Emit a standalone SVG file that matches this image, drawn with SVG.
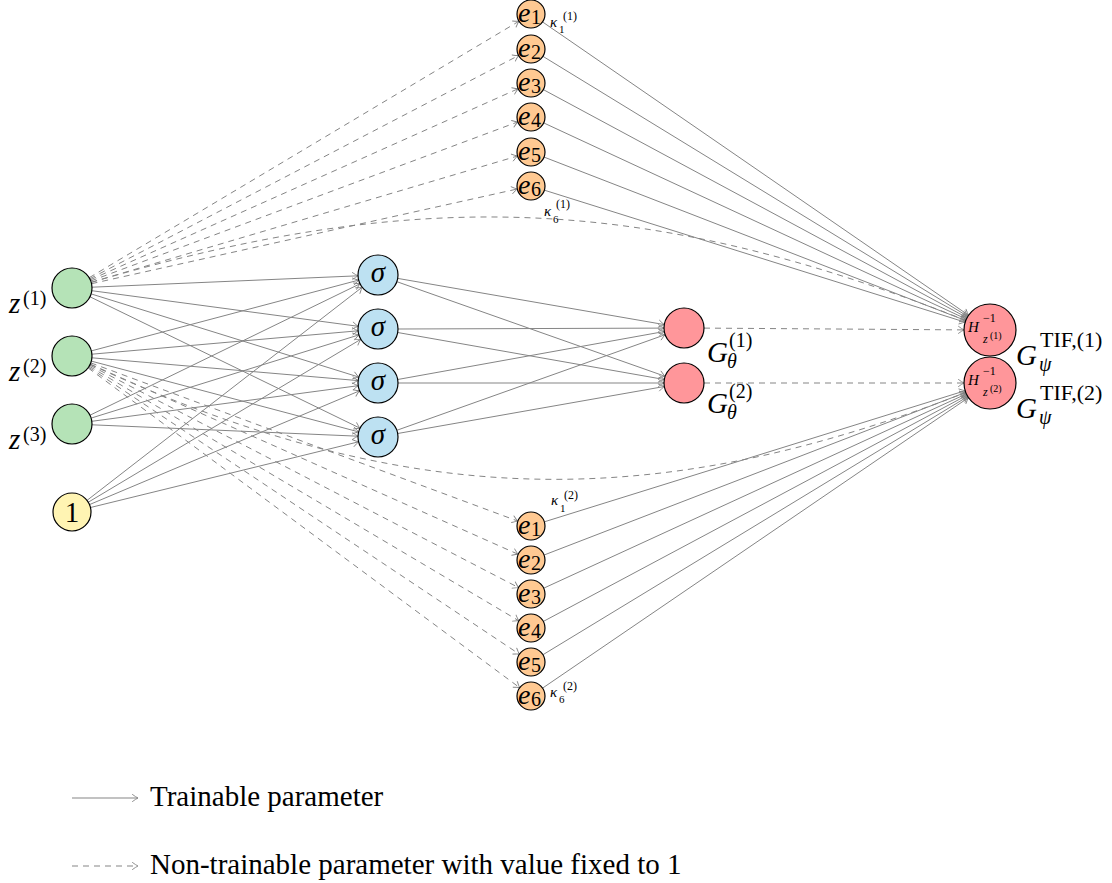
<svg xmlns="http://www.w3.org/2000/svg" width="1112" height="883" viewBox="0 0 1112 883">
<style>
.e{stroke:#858585;stroke-width:1;fill:none;marker-end:url(#arr)}
.d{stroke-dasharray:6 5}
.nd{stroke:#000;stroke-width:1.2}
.gr{fill:#b5e3b7}.bl{fill:#bde1f2}.or{fill:#ffc992}.ye{fill:#fff4b3}.rd{fill:#ff969a}
.m{font-family:"Liberation Serif","DejaVu Serif",serif;font-style:italic;fill:#000}
.r{font-family:"Liberation Serif","DejaVu Serif",serif;font-style:normal;fill:#000}
</style>
<defs>
<marker id="arr" markerUnits="userSpaceOnUse" markerWidth="10" markerHeight="10" viewBox="-7 -5 8 10" refX="0" refY="0" orient="auto">
<path d="M -5.5 -3.5 Q -2 -0.9 0 0 Q -2 0.9 -5.5 3.5" fill="none" stroke="#858585" stroke-width="0.9" stroke-linecap="round" stroke-dasharray="none"/>
</marker>
</defs>
<g id="connectors">
<line class="e d" x1="89.2" y1="277.7" x2="519" y2="21.2"/>
<line class="e d" x1="89.7" y1="278.8" x2="518.6" y2="55.5"/>
<line class="e d" x1="90.3" y1="279.8" x2="518.2" y2="88.7"/>
<line class="e d" x1="90.7" y1="281" x2="517.9" y2="121.9"/>
<line class="e d" x1="91.2" y1="282.3" x2="517.6" y2="156"/>
<line class="e d" x1="91.5" y1="283.7" x2="517.3" y2="189"/>
<path class="e d" d="M 91.2 282.4 C 419.7 185.8 647.2 194.3 965.8 320.4"/>
<line class="e d" x1="90.8" y1="362.9" x2="517.9" y2="521.1"/>
<line class="e d" x1="90.3" y1="364.1" x2="518.2" y2="554.3"/>
<line class="e d" x1="89.8" y1="365.2" x2="518.6" y2="587.6"/>
<line class="e d" x1="89.2" y1="366.2" x2="519" y2="620.9"/>
<line class="e d" x1="88.6" y1="367.1" x2="519.4" y2="654.2"/>
<line class="e d" x1="88.1" y1="367.9" x2="519.7" y2="687.7"/>
<path class="e d" d="M 90.2 364.4 C 401.6 507.5 646.6 517.1 965.8 392.5"/>
<line class="e" x1="92" y1="287.2" x2="358" y2="275.8"/>
<line class="e" x1="91.8" y1="290.7" x2="358.2" y2="326.3"/>
<line class="e" x1="91.1" y1="293.9" x2="358.9" y2="377.1"/>
<line class="e" x1="90" y1="296.8" x2="360" y2="428.2"/>
<line class="e" x1="91.3" y1="350.9" x2="358.7" y2="280.1"/>
<line class="e" x1="91.9" y1="354.2" x2="358.1" y2="330.8"/>
<line class="e" x1="91.9" y1="357.8" x2="358.1" y2="380.6"/>
<line class="e" x1="91.3" y1="361.1" x2="358.7" y2="431.9"/>
<line class="e" x1="90" y1="415.2" x2="360" y2="283.8"/>
<line class="e" x1="91.1" y1="418.1" x2="358.9" y2="334.9"/>
<line class="e" x1="91.8" y1="421.3" x2="358.2" y2="385.7"/>
<line class="e" x1="92" y1="424.8" x2="358" y2="436.2"/>
<line class="e" x1="87" y1="500.4" x2="362.2" y2="287.2"/>
<line class="e" x1="88.3" y1="502.2" x2="360.8" y2="339.3"/>
<line class="e" x1="89.5" y1="504.6" x2="359.6" y2="390.8"/>
<line class="e" x1="90.5" y1="507.5" x2="358.6" y2="441.8"/>
<line class="e" x1="397.7" y1="278.4" x2="664.3" y2="324.6"/>
<line class="e" x1="396.9" y1="281.7" x2="665.1" y2="376.3"/>
<line class="e" x1="398" y1="329" x2="664" y2="328.1"/>
<line class="e" x1="397.7" y1="332.5" x2="664.3" y2="379.5"/>
<line class="e" x1="397.7" y1="379.5" x2="664.3" y2="331.5"/>
<line class="e" x1="398" y1="383" x2="664" y2="383"/>
<line class="e" x1="396.8" y1="430.3" x2="665.2" y2="334.7"/>
<line class="e" x1="397.7" y1="433.5" x2="664.3" y2="386.5"/>
<line class="e d" x1="704" y1="328.1" x2="964" y2="329.9"/>
<line class="e d" x1="704" y1="383" x2="964" y2="383"/>
<line class="e" x1="542.5" y1="21.9" x2="968.6" y2="315.3"/>
<line class="e" x1="542.9" y1="56.3" x2="967.8" y2="316.4"/>
<line class="e" x1="543.3" y1="89.6" x2="967.1" y2="317.7"/>
<line class="e" x1="543.7" y1="122.9" x2="966.4" y2="319.1"/>
<line class="e" x1="544.1" y1="157.1" x2="965.8" y2="320.6"/>
<line class="e" x1="544.4" y1="190.2" x2="965.2" y2="322.2"/>
<line class="e" x1="544.4" y1="521.8" x2="965.2" y2="390.7"/>
<line class="e" x1="544.1" y1="555" x2="965.7" y2="392.4"/>
<line class="e" x1="543.7" y1="588.2" x2="966.4" y2="393.9"/>
<line class="e" x1="543.4" y1="621.4" x2="967.1" y2="395.2"/>
<line class="e" x1="543" y1="654.7" x2="967.8" y2="396.5"/>
<line class="e" x1="542.6" y1="688.1" x2="968.5" y2="397.6"/>
</g>
<g id="kappa-labels">
<text class="m" x="550" y="27" font-size="15">κ</text><text class="r" x="559" y="33" font-size="11">1</text><text class="r" x="563" y="20" font-size="12">(1)</text>
<text class="m" x="544" y="216" font-size="15">κ</text><text class="r" x="553" y="223" font-size="11">6</text><text class="r" x="556" y="208" font-size="12">(1)</text>
<text class="m" x="551" y="505" font-size="15">κ</text><text class="r" x="560" y="512" font-size="11">1</text><text class="r" x="564" y="499" font-size="12">(2)</text>
<text class="m" x="550" y="697" font-size="15">κ</text><text class="r" x="559" y="703" font-size="11">6</text><text class="r" x="563" y="690" font-size="12">(2)</text>
</g>
<g id="z1"><circle class="nd gr" cx="72" cy="288" r="20"/><text class="m" x="9" y="313" font-size="29">z</text><text class="r" x="23" y="305" font-size="20">(1)</text></g>
<g id="z2"><circle class="nd gr" cx="72" cy="356" r="20"/><text class="m" x="9" y="381" font-size="29">z</text><text class="r" x="23" y="373" font-size="20">(2)</text></g>
<g id="z3"><circle class="nd gr" cx="72" cy="424" r="20"/><text class="m" x="9" y="449" font-size="29">z</text><text class="r" x="23" y="441" font-size="20">(3)</text></g>
<g id="bias"><circle class="nd ye" cx="72" cy="512" r="19"/><text class="r" x="72" y="522" font-size="29" text-anchor="middle">1</text></g>
<g id="sigma1"><circle class="nd bl" cx="378" cy="275" r="20"/><text class="m" x="378" y="282" font-size="29" text-anchor="middle">σ</text></g>
<g id="sigma2"><circle class="nd bl" cx="378" cy="329" r="20"/><text class="m" x="378" y="336" font-size="29" text-anchor="middle">σ</text></g>
<g id="sigma3"><circle class="nd bl" cx="378" cy="383" r="20"/><text class="m" x="378" y="390" font-size="29" text-anchor="middle">σ</text></g>
<g id="sigma4"><circle class="nd bl" cx="378" cy="437" r="20"/><text class="m" x="378" y="444" font-size="29" text-anchor="middle">σ</text></g>
<g id="G1"><circle class="nd rd" cx="684" cy="328" r="20"/><text class="m" x="707" y="362" font-size="29">G</text><text class="r" x="729" y="347" font-size="20">(1)</text><text class="m" x="727" y="368" font-size="20">θ</text></g>
<g id="G2"><circle class="nd rd" cx="684" cy="383" r="20"/><text class="m" x="707" y="413" font-size="29">G</text><text class="r" x="729" y="398" font-size="20">(2)</text><text class="m" x="727" y="419" font-size="20">θ</text></g>
<g id="H1"><circle class="nd rd" cx="990" cy="330" r="26"/>
<text class="m" x="968" y="332" font-size="15">H</text><text class="r" x="983" y="322" font-size="12">−1</text><text class="m" x="983" y="343" font-size="12">z</text><text class="r" x="990" y="339" font-size="10">(1)</text>
<text class="m" x="1016" y="365" font-size="29">G</text><text class="r" x="1040" y="347" font-size="22">TIF,(1)</text><text class="m" x="1039" y="371" font-size="20">ψ</text></g>
<g id="H2"><circle class="nd rd" cx="990" cy="383" r="26"/>
<text class="m" x="968" y="385" font-size="15">H</text><text class="r" x="983" y="375" font-size="12">−1</text><text class="m" x="983" y="396" font-size="12">z</text><text class="r" x="990" y="392" font-size="10">(2)</text>
<text class="m" x="1016" y="418" font-size="29">G</text><text class="r" x="1040" y="400" font-size="22">TIF,(2)</text><text class="m" x="1039" y="424" font-size="20">ψ</text></g>
<g id="top-e">
<g id="te1"><circle class="nd or" cx="531" cy="14" r="14"/><text class="m" x="518" y="22" font-size="28">e</text><text class="r" x="531" y="24" font-size="20">1</text></g>
<g id="te2"><circle class="nd or" cx="531" cy="49" r="14"/><text class="m" x="518" y="57" font-size="28">e</text><text class="r" x="531" y="59" font-size="20">2</text></g>
<g id="te3"><circle class="nd or" cx="531" cy="83" r="14"/><text class="m" x="518" y="91" font-size="28">e</text><text class="r" x="531" y="93" font-size="20">3</text></g>
<g id="te4"><circle class="nd or" cx="531" cy="117" r="14"/><text class="m" x="518" y="125" font-size="28">e</text><text class="r" x="531" y="127" font-size="20">4</text></g>
<g id="te5"><circle class="nd or" cx="531" cy="152" r="14"/><text class="m" x="518" y="160" font-size="28">e</text><text class="r" x="531" y="162" font-size="20">5</text></g>
<g id="te6"><circle class="nd or" cx="531" cy="186" r="14"/><text class="m" x="518" y="194" font-size="28">e</text><text class="r" x="531" y="196" font-size="20">6</text></g>
</g>
<g id="bottom-e">
<g id="be1"><circle class="nd or" cx="531" cy="526" r="14"/><text class="m" x="518" y="534" font-size="28">e</text><text class="r" x="531" y="536" font-size="20">1</text></g>
<g id="be2"><circle class="nd or" cx="531" cy="560" r="14"/><text class="m" x="518" y="568" font-size="28">e</text><text class="r" x="531" y="570" font-size="20">2</text></g>
<g id="be3"><circle class="nd or" cx="531" cy="594" r="14"/><text class="m" x="518" y="602" font-size="28">e</text><text class="r" x="531" y="604" font-size="20">3</text></g>
<g id="be4"><circle class="nd or" cx="531" cy="628" r="14"/><text class="m" x="518" y="636" font-size="28">e</text><text class="r" x="531" y="638" font-size="20">4</text></g>
<g id="be5"><circle class="nd or" cx="531" cy="662" r="14"/><text class="m" x="518" y="670" font-size="28">e</text><text class="r" x="531" y="672" font-size="20">5</text></g>
<g id="be6"><circle class="nd or" cx="531" cy="696" r="14"/><text class="m" x="518" y="704" font-size="28">e</text><text class="r" x="531" y="706" font-size="20">6</text></g>
</g>
<g id="legend">
<line class="e" x1="72" y1="798" x2="138" y2="798"/>
<text class="r" x="150" y="806" font-size="29">Trainable parameter</text>
<line class="e d" x1="72" y1="866" x2="138" y2="866"/>
<text class="r" x="150" y="874" font-size="29">Non-trainable parameter with value fixed to 1</text>
</g>
</svg>
